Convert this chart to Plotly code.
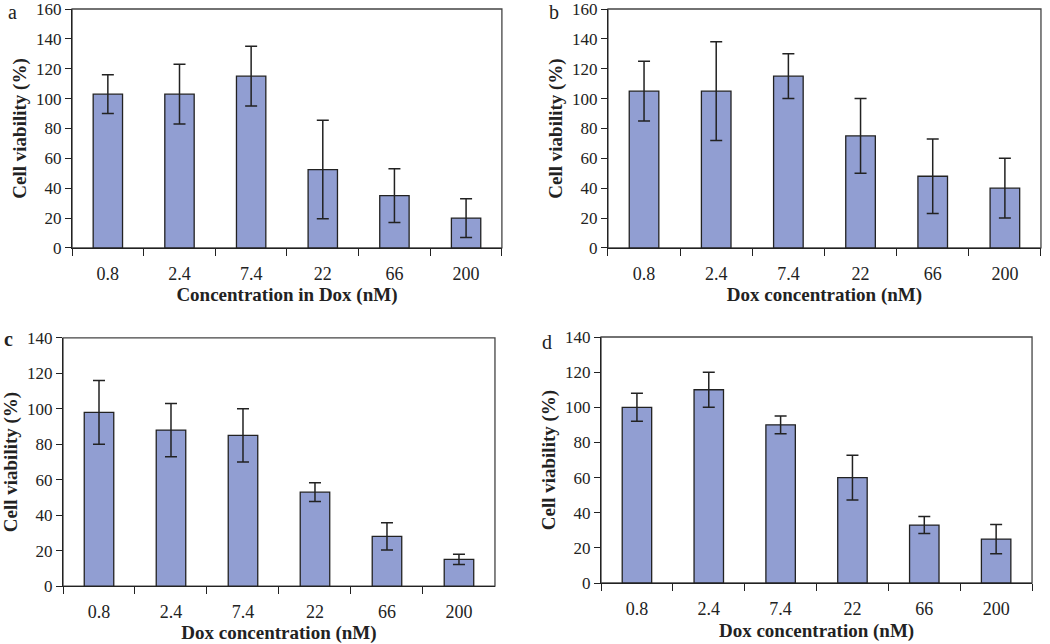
import plotly.graph_objects as go

# ----- Data ----- #

doses = ['0.8', '2.4', '7.4', '22', '66', '200']

viability_a = [103, 103, 115, 52.5, 35, 20]
error_a = [13, 20, 20, 33, 18, 13]

viability_b = [105, 105, 115, 75, 48, 40]
error_b = [20, 33, 15, 25, 25, 20]

viability_c = [98, 88, 85, 53, 28, 15]
error_c = [18, 15, 15, 5.3, 7.7, 2.9]

viability_d = [100, 110, 90, 60, 33, 25]
error_d = [8, 10, 5, 12.7, 4.8, 8.3]

# ----- Style ----- #

bar_color = '#919ed2'
edge_color = '#222222'
serif = 'Liberation Serif'

W, H = 1050, 644

panels = [
    # values, errors, x title, ymax, x domain, y domain, letter, letter pos (px), letter bold
    (viability_a, error_a, 'Concentration in Dox (nM)', 160, [0.0686, 0.478], [0.615, 0.986], 'a', (12, 0), False),
    (viability_b, error_b, 'Dox concentration (nM)', 160, [0.579, 0.9914], [0.615, 0.986], 'b', (554, 0), False),
    (viability_c, error_c, 'Dox concentration (nM)', 140, [0.06, 0.4714], [0.09, 0.4752], 'c', (8, 327), True),
    (viability_d, error_d, 'Dox concentration (nM)', 140, [0.5724, 0.9829], [0.0947, 0.4767], 'd', (547, 330), False),
]

fig = go.Figure()

for i, (vals, errs, xtitle, ymax, xdom, ydom, letter, lpos, bold) in enumerate(panels):
    n = '' if i == 0 else str(i + 1)
    fig.add_trace(go.Bar(
        x=doses, y=vals,
        error_y=dict(type='data', array=errs, visible=True, color=edge_color, thickness=1.5, width=6),
        marker=dict(color=bar_color, line=dict(color=edge_color, width=1.3)),
        xaxis='x' + n, yaxis='y' + n,
        showlegend=False,
    ))
    fig.update_layout({
        'xaxis' + n: dict(
            domain=xdom, anchor='y' + n,
            type='category', automargin=False,
            ticks='outside', tickson='boundaries', ticklen=7, tickcolor=edge_color,
            ticklabelstandoff=9,
            showline=True, linecolor=edge_color, linewidth=1.3,
            mirror=False, showgrid=False,
            tickfont=dict(family=serif, size=18, color='#222'),
            title=dict(text='<b>' + xtitle + '</b>', font=dict(family=serif, size=19, color='#222'), standoff=5),
        ),
        'yaxis' + n: dict(
            domain=ydom, anchor='x' + n, automargin=False,
            range=[0, ymax], dtick=20,
            ticks='outside', ticklen=6, tickcolor=edge_color,
            ticklabeloverflow='allow',
            showline=True, linecolor=edge_color, linewidth=1.3,
            showgrid=False, zeroline=False,
            tickfont=dict(family=serif, size=17, color='#222'),
            title=dict(text='<b>Cell viability (%)</b>', font=dict(family=serif, size=19, color='#222'), standoff=4),
        ),
    })
    # top / right frame of each panel
    fig.add_shape(type='rect', xref='x' + n + ' domain', yref='y' + n + ' domain',
                  x0=0, x1=1, y0=0, y1=1, line=dict(color='#444', width=1.3), layer='below')
    fig.add_annotation(text='<b>' + letter + '</b>' if bold else letter,
                       x=lpos[0] / W, y=1 - lpos[1] / H, xref='paper', yref='paper',
                       xanchor='center', yanchor='top', showarrow=False, borderpad=0,
                       font=dict(family=serif, size=20, color='#222'))

fig.update_layout(
    width=W, height=H,
    margin=dict(l=0, r=0, t=0, b=0),
    plot_bgcolor='white', paper_bgcolor='white',
    bargap=0.59,
)

# page margin off so the figure sits at the window corner
fig.write_html("out.html", config={'displayModeBar': False},
               post_script="document.body.style.margin = '0';")
